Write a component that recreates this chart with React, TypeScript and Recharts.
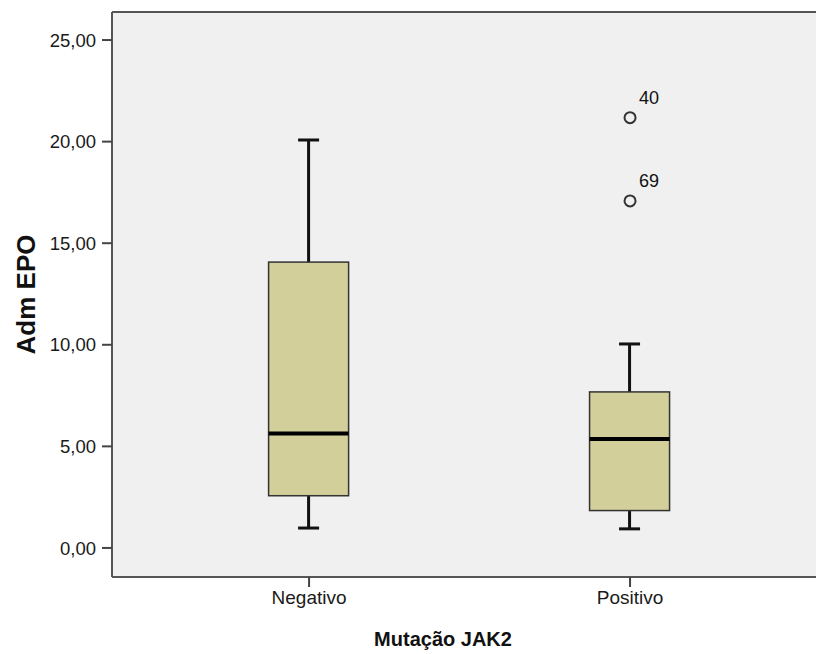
import {
  ComposedChart,
  Bar,
  Scatter,
  XAxis,
  YAxis,
  CartesianGrid,
  ReferenceLine,
} from "recharts";

const categories = ["Negativo", "Positivo"];
const positions = [1, 2];
const mins = [0.98, 0.94];
const q1s = [2.57, 1.84];
const medians = [5.63, 5.36];
const q3s = [14.07, 7.68];
const maxs = [20.08, 10.04];

const outlierGroup = [2, 2];
const outlierValues = [21.18, 17.08];
const outlierCases = ["40", "69"];

const yTicks = [0, 5, 10, 15, 20, 25];

const boxData = categories.map((name, i) => ({
  name,
  pos: positions[i],
  min: mins[i],
  q1: q1s[i],
  median: medians[i],
  q3: q3s[i],
  max: maxs[i],
}));

const outlierData = outlierValues.map((v, i) => ({
  pos: outlierGroup[i],
  value: v,
  label: outlierCases[i],
}));

const FONT = "'Liberation Sans', Arial, sans-serif";

// one bar spans min..max, the shape draws whiskers, box and median inside it
const BoxShape = (props: any) => {
  const { x, y, width, height, payload } = props;
  const ppu = height / (payload.max - payload.min);
  const py = (v: number) => y + (payload.max - v) * ppu;
  const cx = x + width / 2;
  const cap = 10.5;
  return (
    <g>
      <line x1={cx} x2={cx} y1={py(payload.max)} y2={py(payload.min)} stroke="#111" strokeWidth={3} />
      <line x1={cx - cap} x2={cx + cap} y1={py(payload.max)} y2={py(payload.max)} stroke="#111" strokeWidth={3} />
      <line x1={cx - cap} x2={cx + cap} y1={py(payload.min)} y2={py(payload.min)} stroke="#111" strokeWidth={3} />
      <rect
        x={x}
        y={py(payload.q3)}
        width={width}
        height={py(payload.q1) - py(payload.q3)}
        fill="#d3cf9b"
        stroke="#333"
        strokeWidth={1.5}
      />
      <line x1={x} x2={x + width} y1={py(payload.median)} y2={py(payload.median)} stroke="#000" strokeWidth={4} />
    </g>
  );
};

const OutlierShape = (props: any) => {
  const { cx, cy, payload } = props;
  return (
    <g>
      <circle cx={cx} cy={cy} r={5.5} fill="none" stroke="#333" strokeWidth={2} />
      <text x={cx + 9} y={cy - 14} fontSize={18} fontFamily={FONT} fill="#111">
        {payload.label}
      </text>
    </g>
  );
};

const fmt = (v: number) => v.toFixed(2).replace(".", ",");

export default function App() {
  return (
    <div style={{ position: "absolute", left: 0, top: 0, width: 816, height: 654, overflow: "hidden", background: "#fff" }}>
      <ComposedChart
        width={840}
        height={654}
        data={boxData}
        margin={{ top: 12, right: 10, bottom: 0, left: 0 }}
      >
        <CartesianGrid horizontal={false} vertical={false} fill="#f0f0f0" />
        <XAxis
          type="number"
          dataKey="pos"
          domain={[0.386, 2.623]}
          allowDataOverflow
          ticks={positions}
          tickFormatter={(v: number) => categories[v - 1]}
          height={77}
          tickSize={10}
          tickMargin={4}
          axisLine={{ stroke: "#555", strokeWidth: 2 }}
          tickLine={{ stroke: "#444", strokeWidth: 2 }}
          tick={{ fontSize: 19, fill: "#1a1a1a", fontFamily: FONT }}
          label={{
            content: (p: any) => (
              <text
                x={p.viewBox.x + p.viewBox.width / 2 - 28}
                y={646}
                textAnchor="middle"
                fontSize={20}
                fontWeight="bold"
                fontFamily={FONT}
                fill="#111"
              >
                Mutação JAK2
              </text>
            ),
          }}
        />
        <YAxis
          type="number"
          domain={[-1.43, 26.38]}
          allowDataOverflow
          ticks={yTicks}
          tickFormatter={fmt}
          width={112}
          tickSize={10}
          tickMargin={6}
          axisLine={{ stroke: "#555", strokeWidth: 2 }}
          tickLine={{ stroke: "#444", strokeWidth: 2 }}
          tick={{ fontSize: 18.5, fill: "#1a1a1a", fontFamily: FONT }}
          label={{
            content: (p: any) => {
              const cx = p.viewBox.x + 26;
              const cy = p.viewBox.y + p.viewBox.height / 2;
              return (
                <text
                  x={cx}
                  y={cy}
                  transform={`rotate(-90 ${cx} ${cy})`}
                  textAnchor="middle"
                  dominantBaseline="central"
                  fontSize={26}
                  fontWeight="bold"
                  fontFamily={FONT}
                  fill="#111"
                >
                  Adm EPO
                </text>
              );
            },
          }}
        />
        <ReferenceLine y={26.38} stroke="#555" strokeWidth={2} ifOverflow="visible" />
        <Bar
          dataKey={(d: any) => [d.min, d.max]}
          barSize={80}
          shape={<BoxShape />}
          isAnimationActive={false}
        />
        <Scatter
          data={outlierData}
          dataKey="value"
          shape={<OutlierShape />}
          isAnimationActive={false}
        />
      </ComposedChart>
    </div>
  );
}
